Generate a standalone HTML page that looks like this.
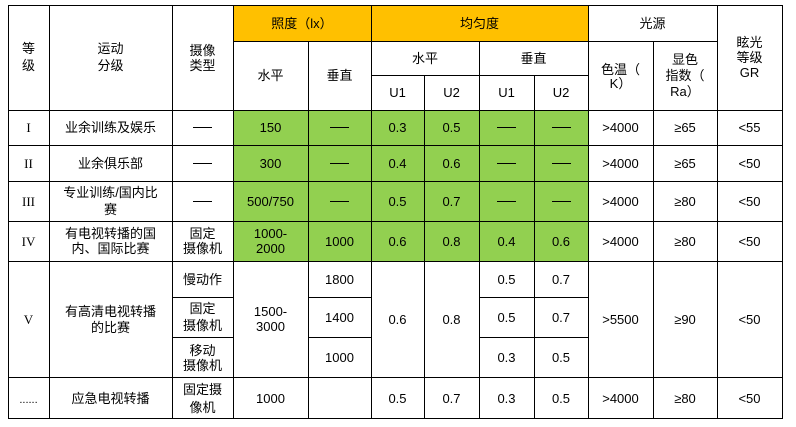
<!DOCTYPE html>
<html>
<head>
<meta charset="utf-8">
<style>
html,body{margin:0;padding:0;background:#fff;}
body{width:796px;height:427px;position:relative;overflow:hidden;font-family:"Liberation Sans","Noto Sans CJK SC",sans-serif;font-size:13px;color:#000;}
svg{position:absolute;left:0;top:0;}
.c{position:absolute;display:flex;align-items:center;justify-content:center;text-align:center;line-height:15px;white-space:nowrap;}
.r{font-family:"Liberation Serif","Noto Serif CJK SC",serif;font-size:13px;}
.d{display:inline-block;width:19px;height:1px;background:#000;}
</style>
</head>
<body>
<svg width="796" height="427" xmlns="http://www.w3.org/2000/svg">
<rect x="233" y="5" width="355" height="36" fill="#FFC000"/>
<rect x="233" y="110" width="355" height="151" fill="#92D050"/>
<g stroke="#000" stroke-width="1" shape-rendering="crispEdges">
<line x1="8" y1="5.5" x2="783" y2="5.5"/>
<line x1="233" y1="41.5" x2="717" y2="41.5"/>
<line x1="371" y1="75.5" x2="588" y2="75.5"/>
<line x1="8" y1="110.5" x2="783" y2="110.5"/>
<line x1="8" y1="145.5" x2="783" y2="145.5"/>
<line x1="8" y1="181.5" x2="783" y2="181.5"/>
<line x1="8" y1="221.5" x2="783" y2="221.5"/>
<line x1="8" y1="261.5" x2="783" y2="261.5"/>
<line x1="172" y1="297.5" x2="233" y2="297.5"/>
<line x1="308" y1="297.5" x2="371" y2="297.5"/>
<line x1="479" y1="297.5" x2="588" y2="297.5"/>
<line x1="172" y1="337.5" x2="233" y2="337.5"/>
<line x1="308" y1="337.5" x2="371" y2="337.5"/>
<line x1="479" y1="337.5" x2="588" y2="337.5"/>
<line x1="8" y1="377.5" x2="783" y2="377.5"/>
<line x1="8" y1="418.5" x2="783" y2="418.5"/>
<line x1="8.5" y1="5" x2="8.5" y2="419"/>
<line x1="49.5" y1="5" x2="49.5" y2="419"/>
<line x1="172.5" y1="5" x2="172.5" y2="419"/>
<line x1="233.5" y1="5" x2="233.5" y2="419"/>
<line x1="308.5" y1="41" x2="308.5" y2="419"/>
<line x1="371.5" y1="5" x2="371.5" y2="419"/>
<line x1="424.5" y1="75" x2="424.5" y2="419"/>
<line x1="479.5" y1="41" x2="479.5" y2="419"/>
<line x1="534.5" y1="75" x2="534.5" y2="419"/>
<line x1="588.5" y1="5" x2="588.5" y2="419"/>
<line x1="653.5" y1="41" x2="653.5" y2="419"/>
<line x1="717.5" y1="5" x2="717.5" y2="419"/>
<line x1="782.5" y1="5" x2="782.5" y2="419"/>
</g>
</svg>

<!-- header -->
<div class="c" style="left:8px;top:5px;width:41px;height:105px;line-height:16.5px;">等<br>级</div>
<div class="c" style="left:49px;top:5px;width:123px;height:105px;line-height:16.5px;">运动<br>分级</div>
<div class="c" style="left:172px;top:5px;width:61px;height:105px;line-height:15px;">摄像<br>类型</div>
<div class="c" style="left:233px;top:5px;width:138px;height:36px;">照度（lx）</div>
<div class="c" style="left:233px;top:41px;width:75px;height:69px;">水平</div>
<div class="c" style="left:308px;top:41px;width:63px;height:69px;">垂直</div>
<div class="c" style="left:371px;top:5px;width:217px;height:36px;">均匀度</div>
<div class="c" style="left:371px;top:41px;width:108px;height:34px;">水平</div>
<div class="c" style="left:479px;top:41px;width:109px;height:34px;">垂直</div>
<div class="c" style="left:371px;top:75px;width:53px;height:35px;">U1</div>
<div class="c" style="left:424px;top:75px;width:55px;height:35px;">U2</div>
<div class="c" style="left:479px;top:75px;width:55px;height:35px;">U1</div>
<div class="c" style="left:534px;top:75px;width:54px;height:35px;">U2</div>
<div class="c" style="left:588px;top:5px;width:129px;height:36px;">光源</div>
<div class="c" style="left:588px;top:42px;width:65px;height:69px;line-height:13.5px;">色温（<br>K）</div>
<div class="c" style="left:653px;top:41px;width:64px;height:69px;line-height:16px;">显色<br>指数（<br>Ra）</div>
<div class="c" style="left:717px;top:5px;width:65px;height:105px;line-height:15px;">眩光<br>等级<br>GR</div>

<!-- row I -->
<div class="c r" style="left:8px;top:110px;width:41px;height:35px;">I</div>
<div class="c" style="left:49px;top:110px;width:123px;height:35px;">业余训练及娱乐</div>
<div class="c" style="left:172px;top:110px;width:61px;height:35px;"><span class="d"></span></div>
<div class="c" style="left:233px;top:110px;width:75px;height:35px;">150</div>
<div class="c" style="left:308px;top:110px;width:63px;height:35px;"><span class="d"></span></div>
<div class="c" style="left:371px;top:110px;width:53px;height:35px;">0.3</div>
<div class="c" style="left:424px;top:110px;width:55px;height:35px;">0.5</div>
<div class="c" style="left:479px;top:110px;width:55px;height:35px;"><span class="d"></span></div>
<div class="c" style="left:534px;top:110px;width:54px;height:35px;"><span class="d"></span></div>
<div class="c" style="left:588px;top:110px;width:65px;height:35px;">&gt;4000</div>
<div class="c" style="left:653px;top:110px;width:64px;height:35px;">≥65</div>
<div class="c" style="left:717px;top:110px;width:65px;height:35px;">&lt;55</div>

<!-- row II -->
<div class="c r" style="left:8px;top:145px;width:41px;height:36px;">II</div>
<div class="c" style="left:49px;top:145px;width:123px;height:36px;">业余俱乐部</div>
<div class="c" style="left:172px;top:145px;width:61px;height:36px;"><span class="d"></span></div>
<div class="c" style="left:233px;top:145px;width:75px;height:36px;">300</div>
<div class="c" style="left:308px;top:145px;width:63px;height:36px;"><span class="d"></span></div>
<div class="c" style="left:371px;top:145px;width:53px;height:36px;">0.4</div>
<div class="c" style="left:424px;top:145px;width:55px;height:36px;">0.6</div>
<div class="c" style="left:479px;top:145px;width:55px;height:36px;"><span class="d"></span></div>
<div class="c" style="left:534px;top:145px;width:54px;height:36px;"><span class="d"></span></div>
<div class="c" style="left:588px;top:145px;width:65px;height:36px;">&gt;4000</div>
<div class="c" style="left:653px;top:145px;width:64px;height:36px;">≥65</div>
<div class="c" style="left:717px;top:145px;width:65px;height:36px;">&lt;50</div>

<!-- row III -->
<div class="c r" style="left:8px;top:181px;width:41px;height:40px;">III</div>
<div class="c" style="left:49px;top:181px;width:123px;height:41px;line-height:16.5px;">专业训练/国内比<br>赛</div>
<div class="c" style="left:172px;top:181px;width:61px;height:40px;"><span class="d"></span></div>
<div class="c" style="left:233px;top:181px;width:75px;height:40px;">500/750</div>
<div class="c" style="left:308px;top:181px;width:63px;height:40px;"><span class="d"></span></div>
<div class="c" style="left:371px;top:181px;width:53px;height:40px;">0.5</div>
<div class="c" style="left:424px;top:181px;width:55px;height:40px;">0.7</div>
<div class="c" style="left:479px;top:181px;width:55px;height:40px;"><span class="d"></span></div>
<div class="c" style="left:534px;top:181px;width:54px;height:40px;"><span class="d"></span></div>
<div class="c" style="left:588px;top:181px;width:65px;height:40px;">&gt;4000</div>
<div class="c" style="left:653px;top:181px;width:64px;height:40px;">≥80</div>
<div class="c" style="left:717px;top:181px;width:65px;height:40px;">&lt;50</div>

<!-- row IV -->
<div class="c r" style="left:8px;top:221px;width:41px;height:40px;">IV</div>
<div class="c" style="left:49px;top:221px;width:123px;height:41px;line-height:14.5px;">有电视转播的国<br>内、国际比赛</div>
<div class="c" style="left:172px;top:221px;width:61px;height:41px;line-height:14.5px;">固定<br>摄像机</div>
<div class="c" style="left:233px;top:221px;width:75px;height:41px;line-height:14.5px;">1000-<br>2000</div>
<div class="c" style="left:308px;top:221px;width:63px;height:40px;">1000</div>
<div class="c" style="left:371px;top:221px;width:53px;height:40px;">0.6</div>
<div class="c" style="left:424px;top:221px;width:55px;height:40px;">0.8</div>
<div class="c" style="left:479px;top:221px;width:55px;height:40px;">0.4</div>
<div class="c" style="left:534px;top:221px;width:54px;height:40px;">0.6</div>
<div class="c" style="left:588px;top:221px;width:65px;height:40px;">&gt;4000</div>
<div class="c" style="left:653px;top:221px;width:64px;height:40px;">≥80</div>
<div class="c" style="left:717px;top:221px;width:65px;height:40px;">&lt;50</div>

<!-- row V -->
<div class="c r" style="left:8px;top:261px;width:41px;height:116px;">V</div>
<div class="c" style="left:49px;top:261px;width:123px;height:117px;line-height:15.3px;">有高清电视转播<br>的比赛</div>
<div class="c" style="left:172px;top:261px;width:61px;height:36px;">慢动作</div>
<div class="c" style="left:172px;top:297px;width:61px;height:40px;line-height:17px;">固定<br>摄像机</div>
<div class="c" style="left:172px;top:337px;width:61px;height:41px;line-height:15px;">移动<br>摄像机</div>
<div class="c" style="left:233px;top:261px;width:75px;height:117px;line-height:14.5px;">1500-<br>3000</div>
<div class="c" style="left:308px;top:261px;width:63px;height:36px;">1800</div>
<div class="c" style="left:308px;top:297px;width:63px;height:40px;">1400</div>
<div class="c" style="left:308px;top:337px;width:63px;height:40px;">1000</div>
<div class="c" style="left:371px;top:261px;width:53px;height:116px;">0.6</div>
<div class="c" style="left:424px;top:261px;width:55px;height:116px;">0.8</div>
<div class="c" style="left:479px;top:261px;width:55px;height:36px;">0.5</div>
<div class="c" style="left:534px;top:261px;width:54px;height:36px;">0.7</div>
<div class="c" style="left:479px;top:297px;width:55px;height:40px;">0.5</div>
<div class="c" style="left:534px;top:297px;width:54px;height:40px;">0.7</div>
<div class="c" style="left:479px;top:337px;width:55px;height:40px;">0.3</div>
<div class="c" style="left:534px;top:337px;width:54px;height:40px;">0.5</div>
<div class="c" style="left:588px;top:261px;width:65px;height:116px;">&gt;5500</div>
<div class="c" style="left:653px;top:261px;width:64px;height:116px;">≥90</div>
<div class="c" style="left:717px;top:261px;width:65px;height:116px;">&lt;50</div>

<!-- last row -->
<div class="c" style="left:8px;top:377px;width:41px;height:41px;font-size:11px;padding-top:6px;box-sizing:border-box;">......</div>
<div class="c" style="left:49px;top:377px;width:123px;height:42px;">应急电视转播</div>
<div class="c" style="left:172px;top:377px;width:61px;height:43px;line-height:17.5px;">固定摄<br>像机</div>
<div class="c" style="left:233px;top:377px;width:75px;height:42px;">1000</div>
<div class="c" style="left:371px;top:377px;width:53px;height:42px;">0.5</div>
<div class="c" style="left:424px;top:377px;width:55px;height:42px;">0.7</div>
<div class="c" style="left:479px;top:377px;width:55px;height:42px;">0.3</div>
<div class="c" style="left:534px;top:377px;width:54px;height:42px;">0.5</div>
<div class="c" style="left:588px;top:377px;width:65px;height:42px;">&gt;4000</div>
<div class="c" style="left:653px;top:377px;width:64px;height:42px;">≥80</div>
<div class="c" style="left:717px;top:377px;width:65px;height:42px;">&lt;50</div>
</body>
</html>
